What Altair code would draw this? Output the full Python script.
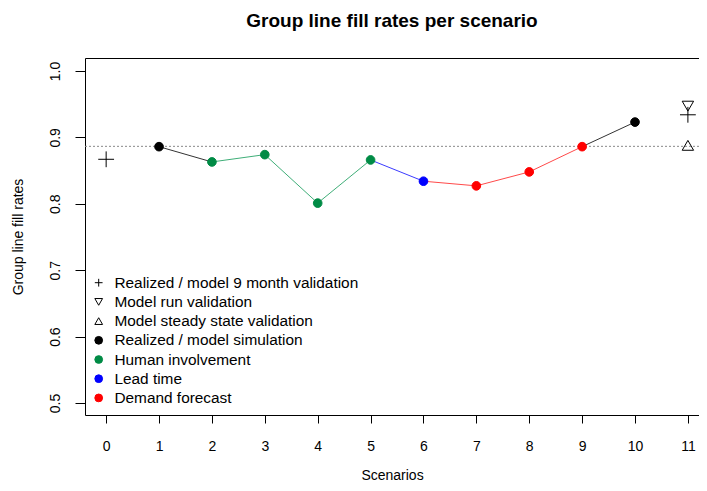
import altair as alt
import pandas as pd

# ---- data ----
series_names = [
    "Realized / model 9 month validation",
    "Model run validation",
    "Model steady state validation",
    "Realized / model simulation",
    "Human involvement",
    "Lead time",
    "Demand forecast",
]
series_shapes = ["M-1,0L1,0M0,-1L0,1", "triangle-down", "triangle-up",
                 "circle", "circle", "circle", "circle"]
series_stroke = ["black", "black", "black", "black", "#008B45", "#0000FF", "#FF0000"]
series_fill = ["transparent", "transparent", "transparent", "black", "#008B45", "#0000FF", "#FF0000"]

# simulated scenarios (filled circles)
sim_x = [1, 2, 3, 4, 5, 6, 7, 8, 9, 10]
sim_y = [0.886, 0.863, 0.874, 0.801, 0.866, 0.834, 0.827, 0.848, 0.886, 0.923]
sim_series = ["Realized / model simulation", "Human involvement", "Human involvement",
              "Human involvement", "Human involvement", "Lead time", "Demand forecast",
              "Demand forecast", "Demand forecast", "Realized / model simulation"]

# line segment colours between consecutive scenarios (1-2, 2-3, ..., 9-10)
seg_colors = ["#333333", "#3fae78", "#3fae78", "#3fae78", "#3b3bff",
              "#ff4a4a", "#ff4a4a", "#ff4a4a", "#333333"]

# validation markers
plus_x = [0, 11]
plus_y = [0.867, 0.934]
down_x = [11]
down_y = [0.947]
up_x = [11]
up_y = [0.888]

ref_level = 0.8865

x_ticks = list(range(0, 12))
y_ticks = [0.5, 0.6, 0.7, 0.8, 0.9, 1.0]

# ---- tables ----
sim_df = pd.DataFrame({"x": sim_x, "y": sim_y, "series": sim_series})
seg_df = pd.DataFrame({
    "x": sim_x[:-1], "y": sim_y[:-1],
    "x2": sim_x[1:], "y2": sim_y[1:],
    "col": seg_colors,
})
plus_df = pd.DataFrame({"x": plus_x, "y": plus_y, "series": series_names[0]})
down_df = pd.DataFrame({"x": down_x, "y": down_y, "series": series_names[1]})
up_df = pd.DataFrame({"x": up_x, "y": up_y, "series": series_names[2]})
ref_df = pd.DataFrame({"y": [ref_level]})

FONT = "Liberation Sans"

xscale = alt.Scale(domain=[-0.4, 11.21], nice=False, zero=False)
yscale = alt.Scale(domain=[0.482, 1.0195], nice=False, zero=False)

xenc = alt.X("x:Q", scale=xscale,
             axis=alt.Axis(values=x_ticks, title="Scenarios", format="d", grid=False,
                           domain=False, tickColor="black", tickSize=8,
                           labelFontSize=14, labelColor="black", labelPadding=16,
                           titleFontSize=14, titleFont=FONT, titleFontWeight="normal",
                           titleColor="black", titlePadding=15, labelFont=FONT))
yenc = alt.Y("y:Q", scale=yscale,
             axis=alt.Axis(values=y_ticks, title="Group line fill rates", format=".1f",
                           grid=False, domain=False, tickColor="black", tickSize=10,
                           labelAngle=270, labelAlign="center", labelBaseline="bottom",
                           labelFontSize=14, labelColor="black", labelPadding=13,
                           labelFont=FONT, titleFont=FONT, titleFontSize=14,
                           titleFontWeight="normal", titleColor="black", titlePadding=23))

legend = alt.Legend(title=None, orient="none", legendX=6, legendY=217,
                    labelFontSize=15.4, labelFont=FONT, labelColor="black", labelLimit=0,
                    symbolSize=60, symbolStrokeWidth=1, rowPadding=2.2, labelOffset=8)

series_scale_shape = alt.Scale(domain=series_names, range=series_shapes)
series_scale_stroke = alt.Scale(domain=series_names, range=series_stroke)
series_scale_fill = alt.Scale(domain=series_names, range=series_fill)


def series_enc():
    return dict(
        shape=alt.Shape("series:N", scale=series_scale_shape, legend=legend),
        stroke=alt.Stroke("series:N", scale=series_scale_stroke, legend=legend),
        fill=alt.Fill("series:N", scale=series_scale_fill, legend=legend),
    )


ref_line = alt.Chart(ref_df).mark_rule(color="#888888", strokeDash=[2, 2], strokeWidth=1).encode(
    y=alt.Y("y:Q", scale=yscale)
)

segs = alt.Chart(seg_df).mark_rule(strokeWidth=1).encode(
    x=xenc, y=yenc,
    x2="x2:Q", y2="y2:Q",
    color=alt.Color("col:N", scale=None),
)

sim_pts = alt.Chart(sim_df).mark_point(size=75, strokeWidth=1, opacity=1).encode(
    x=xenc, y=yenc, **series_enc()
)
plus_pts = alt.Chart(plus_df).mark_point(size=250, strokeWidth=1, opacity=1).encode(
    x=xenc, y=yenc, **series_enc()
)
down_pts = alt.Chart(down_df).mark_point(size=130, strokeWidth=1, opacity=1).encode(
    x=xenc, y=yenc, **series_enc()
)
up_pts = alt.Chart(up_df).mark_point(size=130, strokeWidth=1, opacity=1).encode(
    x=xenc, y=yenc, **series_enc()
)

chart = alt.layer(ref_line, segs, sim_pts, plus_pts, down_pts, up_pts).properties(
    width=614, height=357,
    title=alt.TitleParams("Group line fill rates per scenario", font=FONT, fontSize=19,
                          fontWeight="bold", color="black", anchor="middle", offset=27),
    autosize=alt.AutoSizeParams(type="none"),
    padding={"left": 77, "top": 50, "right": 0, "bottom": 68},
    background="white",
).configure_view(
    stroke="black", strokeWidth=1
)

chart.save("out.html", embed_options={"renderer": "svg", "actions": False})
